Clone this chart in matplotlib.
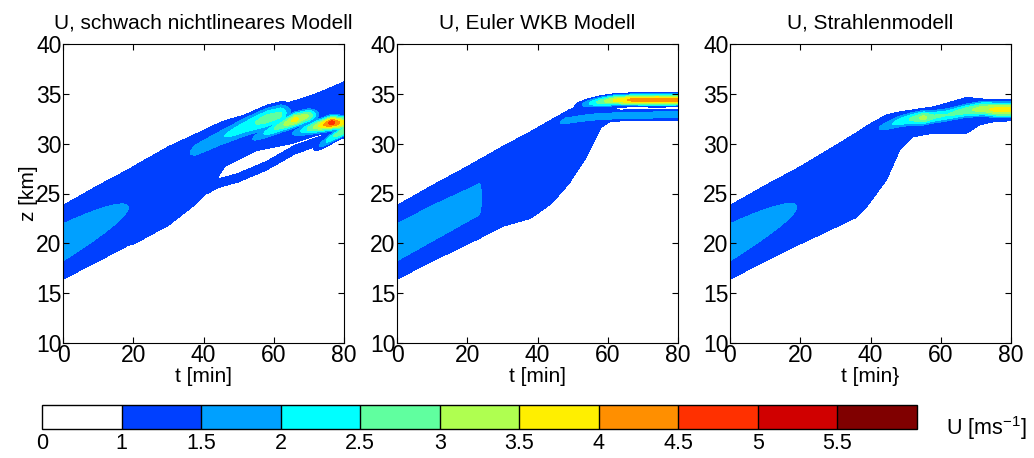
import numpy as np
import matplotlib
matplotlib.use("Agg")
import matplotlib.pyplot as plt

plt.rcParams["font.family"] = ["Liberation Sans", "DejaVu Sans"]
plt.rcParams["mathtext.fontset"] = "custom"
plt.rcParams["mathtext.rm"] = "Liberation Sans"
plt.rcParams["mathtext.default"] = "regular"
plt.rcParams["font.size"] = 15

# ---- colour levels (U in m/s) ----
LEVELS = [0, 1, 1.5, 2, 2.5, 3, 3.5, 4, 4.5, 5, 5.5, 6]
COLORS = ["#ffffff", "#0040ff", "#00a0ff", "#00ffff", "#60ff9f", "#afff50",
          "#ffef00", "#ff8f00", "#ff3000", "#d00000", "#800000"]
CB_LABELS = ["0", "1", "1.5", "2", "2.5", "3", "3.5", "4", "4.5", "5", "5.5"]

TITLES = ["U, schwach nichtlineares Modell", "U, Euler WKB Modell", "U, Strahlenmodell"]
XLABELS = ["t [min]", "t [min]", "t [min}"]

# ---- wave packet outline: U = 1 contour (lower / upper edge, km)
# and peak amplitude inside the packet ----
P1_BAND_T = [0, 10, 18.6, 20, 30, 38, 42, 46, 55, 65, 72, 80]
P1_BAND_LO = [16.4, 18.2, 19.8, 19.9, 21.8, 24.0, 25.4, 27.7, 29.3, 30.0, 30.8, 31.5]
P1_BAND_UP = [23.8, 25.8, 27.4, 27.7, 29.7, 31.0, 31.7, 32.3, 33.2, 34.2, 35.0, 36.2]
P1_BAND_A = [1.72, 1.60, 1.50, 1.40, 1.30, 1.30, 1.30, 1.30, 1.30, 1.30, 1.30, 1.30]

P2_BAND_T = [0, 10, 20, 23.5, 25, 30, 38, 44, 49, 54, 58, 61, 64, 80]
P2_BAND_LO = [16.4, 18.2, 19.9, 20.5, 20.8, 21.7, 22.5, 24.0, 26.0, 28.7, 31.6, 32.3, 32.3, 32.3]
P2_BAND_UP = [23.8, 25.8, 27.7, 28.4, 28.7, 29.7, 31.2, 32.4, 33.4, 34.1, 34.1, 33.7, 33.3, 33.3]
P2_BAND_A = [1.72, 1.68, 1.63, 1.62, 1.30, 1.30, 1.30, 1.30, 1.30, 1.30, 1.30, 1.30, 1.30, 1.30]

P3_BAND_T = [0, 10, 19, 21, 30, 36, 39, 44.6, 48.4, 52.2, 58, 62, 67.4, 71.2, 75, 80]
P3_BAND_LO = [16.4, 18.2, 19.8, 20.1, 21.6, 22.6, 23.7, 26.4, 29.4, 30.7, 31.05, 31.05, 31.05, 31.9, 32.2, 32.3]
P3_BAND_UP = [23.8, 25.8, 27.5, 27.9, 29.8, 31.1, 31.8, 32.9, 33.2, 33.4, 33.7, 34.1, 34.65, 34.5, 34.4, 34.4]
P3_BAND_A = [1.72, 1.60, 1.50, 1.40, 1.30, 1.30, 1.30, 1.30, 1.30, 1.30, 1.30, 1.30, 1.30, 1.30, 1.30, 1.30]

# ---- streaks inside the packet: time, centre height, width (km), peak U ----
P1_STREAKS = [
    ([41, 44, 50, 58, 66, 74, 80], [25.4, 26.0, 26.6, 27.8, 29.4, 30.4, 31.0], 0.65,
     [1.25, 1.25, 1.25, 1.25, 1.25, 1.25, 1.25]),
    ([32, 38, 45, 52, 58, 62, 66], [28.3, 29.4, 30.6, 31.7, 32.5, 32.9, 33.3], 0.95,
     [0.9, 1.75, 1.95, 2.3, 2.75, 2.6, 1.0]),
    ([50, 56, 62, 66, 70, 74], [29.8, 30.8, 31.8, 32.4, 32.8, 33.0], 0.6,
     [0.9, 1.8, 2.8, 3.7, 3.0, 0.9]),
    ([62, 67, 72, 76.5, 80], [30.6, 31.2, 31.7, 32.1, 32.1], 0.55,
     [0.9, 1.8, 3.2, 4.8, 3.6]),
    ([71, 74, 77, 80], [29.4, 30.0, 30.7, 31.3], 0.45,
     [0.9, 1.8, 2.5, 3.0]),
]
P2_STREAKS = [
    ([43, 48, 55, 65, 80], [31.6, 32.3, 32.65, 32.85, 32.9], 0.5,
     [0.9, 1.75, 1.8, 1.8, 1.8]),
    ([50, 54, 58, 62, 68, 74, 80], [33.7, 34.0, 34.2, 34.35, 34.4, 34.4, 34.4], 0.42,
     [0.9, 1.8, 2.8, 3.6, 4.3, 4.4, 4.3]),
]
P3_STREAKS = [
    ([39, 43, 48, 52, 55, 58, 62, 67, 72, 76, 80],
     [31.0, 31.6, 32.2, 32.5, 32.6, 32.7, 32.9, 33.3, 33.5, 33.4, 33.4], 0.6,
     [0.9, 1.6, 2.2, 2.6, 3.2, 2.6, 2.5, 2.8, 3.3, 3.7, 3.7]),
]

PANELS = [
    (P1_BAND_T, P1_BAND_LO, P1_BAND_UP, P1_BAND_A, P1_STREAKS),
    (P2_BAND_T, P2_BAND_LO, P2_BAND_UP, P2_BAND_A, P2_STREAKS),
    (P3_BAND_T, P3_BAND_LO, P3_BAND_UP, P3_BAND_A, P3_STREAKS),
]

t = np.linspace(0, 80, 401)
z = np.linspace(10, 40, 601)
T, Z = np.meshgrid(t, z)


def ridge(tk, zc, sig, amp):
    c = np.interp(T, tk, zc)
    s = np.interp(T, tk, np.broadcast_to(sig, len(tk)))
    a = np.interp(T, tk, amp, left=0, right=0)
    return a * np.exp(-0.5 * ((Z - c) / s) ** 2)


def field(bt, lo, up, amp, streaks):
    # packet: U = 1 exactly on the read edges
    l = np.interp(T, bt, lo)
    u = np.interp(T, bt, up)
    a = np.interp(T, bt, amp)
    s = (u - l) / 2 / np.sqrt(2 * np.log(a))
    U = a * np.exp(-0.5 * ((Z - (l + u) / 2) / s) ** 2)
    for st in streaks:
        U = np.maximum(U, ridge(*st))
    return U


fig = plt.figure(figsize=(10.34, 4.58), dpi=100)
lefts = [63, 397, 730]
cs = None
for i, (left, panel) in enumerate(zip(lefts, PANELS)):
    ax = fig.add_axes([left / 1034, 1 - 343 / 458, 281 / 1034, 299 / 458])
    cs = ax.contourf(T, Z, field(*panel), levels=LEVELS, colors=COLORS)
    ax.set_xlim(0, 80)
    ax.set_ylim(10, 40)
    ax.set_xticks([0, 20, 40, 60, 80])
    ax.set_yticks([10, 15, 20, 25, 30, 35, 40])
    ax.tick_params(direction="in", top=True, right=True, length=4, labelsize=16.5, pad=1)
    ax.set_title(TITLES[i], fontsize=15, pad=11)
    ax.set_xlabel(XLABELS[i], fontsize=15, labelpad=0)
    if i == 0:
        ax.set_ylabel("z [km]", fontsize=15, labelpad=-1)

cax = fig.add_axes([42 / 1034, 1 - 429 / 458, 875 / 1034, 24 / 458])
cb = fig.colorbar(cs, cax=cax, orientation="horizontal", spacing="uniform", drawedges=True)
cb.set_ticks(LEVELS[:-1])
cb.set_ticklabels(CB_LABELS)
cb.ax.tick_params(length=0, labelsize=15.5, pad=3)
cb.outline.set_linewidth(1.0)
cb.dividers.set_linewidth(1.0)
fig.text(946 / 1034, 1 - 428 / 458, "U [ms$^{-1}$]", fontsize=15.5, va="center", ha="left")

fig.savefig("out.png", dpi=100)
